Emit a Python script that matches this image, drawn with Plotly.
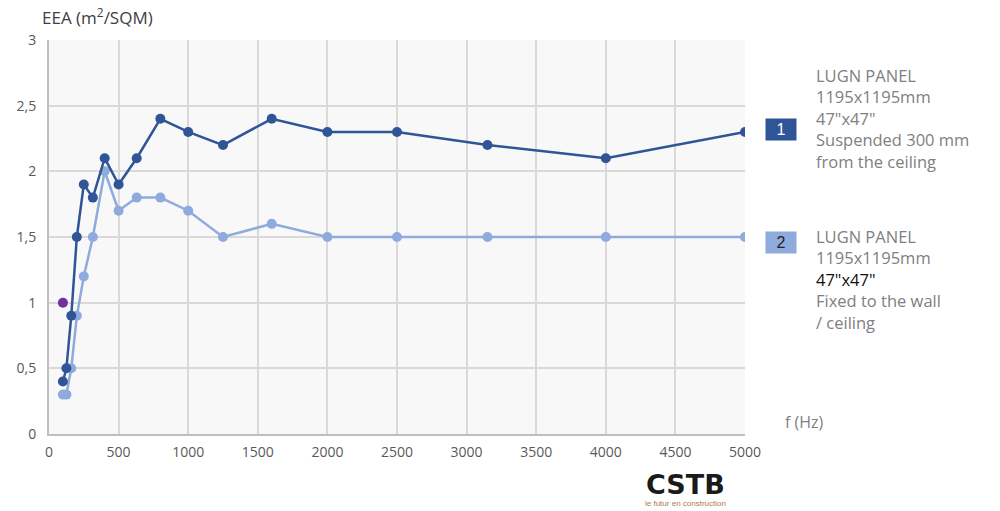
import plotly.graph_objects as go

freq = [100, 125, 160, 200, 250, 315, 400, 500, 630, 800, 1000, 1250, 1600, 2000, 2500, 3150, 4000, 5000]
suspended = [0.4, 0.5, 0.9, 1.5, 1.9, 1.8, 2.1, 1.9, 2.1, 2.4, 2.3, 2.2, 2.4, 2.3, 2.3, 2.2, 2.1, 2.3]
fixed = [0.3, 0.3, 0.5, 0.9, 1.2, 1.5, 2.0, 1.7, 1.8, 1.8, 1.7, 1.5, 1.6, 1.5, 1.5, 1.5, 1.5, 1.5]
extra_x = [100]
extra_y = [1.0]

x_ticks = [0, 500, 1000, 1500, 2000, 2500, 3000, 3500, 4000, 4500, 5000]
y_ticks = [0, 0.5, 1, 1.5, 2, 2.5, 3]
y_labels = ["0", "0,5", "1", "1,5", "2", "2,5", "3"]

DARK = "#2F5597"
LIGHT = "#8FAADC"
PURPLE = "#7030A0"
FONT = "Open Sans"

fig = go.Figure()
fig.add_trace(go.Scatter(x=freq, y=fixed, mode="lines+markers",
                         line=dict(color=LIGHT, width=2.5),
                         marker=dict(color=LIGHT, size=10), name="2"))
fig.add_trace(go.Scatter(x=freq, y=suspended, mode="lines+markers",
                         line=dict(color=DARK, width=2.5),
                         marker=dict(color=DARK, size=10), name="1"))
fig.add_trace(go.Scatter(x=extra_x, y=extra_y, mode="markers",
                         marker=dict(color=PURPLE, size=10), name="ref"))

fig.update_layout(
    width=1000, height=511,
    margin=dict(l=49, r=255, t=40, b=77),
    paper_bgcolor="white",
    plot_bgcolor="#f8f8f8",
    showlegend=False,
    font=dict(family=FONT, color="#595959", size=14),
    xaxis=dict(range=[0, 5000], tickvals=x_ticks, ticktext=[str(v) for v in x_ticks],
               showgrid=True, gridcolor="#d9d9d9", gridwidth=1.5,
               showline=True, linecolor="#bfbfbf", linewidth=2,
               zeroline=False, ticks="", tickfont=dict(size=14, color="#595959"),
               ticklabelstandoff=4),
    yaxis=dict(range=[0, 3], tickvals=y_ticks, ticktext=y_labels,
               showgrid=True, gridcolor="#d9d9d9", gridwidth=1.5,
               showline=True, linecolor="#bfbfbf", linewidth=2,
               zeroline=False, ticks="", tickfont=dict(size=14, color="#595959"),
               ticklabelstandoff=8),
)

fig.add_annotation(xref="paper", yref="paper", x=-0.013, y=1.0, yshift=24,
                   xanchor="left", yanchor="middle", showarrow=False,
                   text="EEA (m<sup>2</sup>/SQM)", font=dict(size=17, color="#404040"))
fig.add_annotation(xref="paper", yref="paper", x=1.0, y=0.0, xshift=38, yshift=12,
                   xanchor="left", yanchor="middle", showarrow=False,
                   text="f (Hz)", font=dict(size=16, color="#7f7f7f"))

# legend boxes
fig.add_annotation(xref="paper", yref="paper", x=1.0, y=0.772, xshift=20,
                   xanchor="left", yanchor="middle", showarrow=False,
                   text="1", bgcolor=DARK, width=28, height=19,
                   font=dict(size=16, color="white", family="Liberation Sans"))
fig.add_annotation(xref="paper", yref="paper", x=1.0, y=0.487, xshift=20,
                   xanchor="left", yanchor="middle", showarrow=False,
                   text="2", bgcolor=LIGHT, width=28, height=19,
                   font=dict(size=16, color="#222222", family="Liberation Sans"))

fig.add_annotation(xref="paper", yref="paper", x=1.0, y=0.802, xshift=69,
                   xanchor="left", yanchor="middle", showarrow=False, align="left",
                   text="LUGN PANEL<br>1195x1195mm<br>47\"x47\"<br>Suspended 300 mm<br>from the ceiling",
                   font=dict(size=16.5, color="#808080"))
fig.add_annotation(xref="paper", yref="paper", x=1.0, y=0.391, xshift=69,
                   xanchor="left", yanchor="middle", showarrow=False, align="left",
                   text="LUGN PANEL<br>1195x1195mm<br><span style='color:#111111'>47\"x47\"</span><br>Fixed to the wall<br>/ ceiling",
                   font=dict(size=16.5, color="#808080"))

# CSTB logo text
fig.add_annotation(xref="paper", yref="paper", x=0.914, y=-0.127,
                   xanchor="center", yanchor="middle", showarrow=False,
                   text="<b>CSTB</b>", font=dict(size=27, color="#1a1a1a", family="DejaVu Sans"))
fig.add_annotation(xref="paper", yref="paper", x=0.914, y=-0.176,
                   xanchor="center", yanchor="middle", showarrow=False,
                   text="le futur en construction", font=dict(size=8, color="#b07a50", family="Liberation Sans"))

fig.write_html("out.html", config={"displayModeBar": False},
               post_script="document.body.style.margin='0';document.body.style.overflow='hidden';")
